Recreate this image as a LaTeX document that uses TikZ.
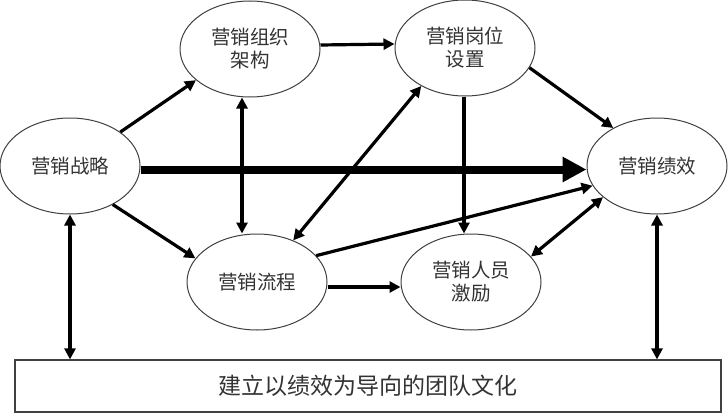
\documentclass[tikz,border=0pt]{standalone}
\usepackage{fontspec}
\newfontfamily\cjk{Noto Sans CJK SC}
\usetikzlibrary{shapes.geometric,arrows.meta,calc}
\begin{document}
\begin{tikzpicture}[x=1pt,y=-1pt,
  ell/.style={ellipse,draw=black!75,line width=1pt,minimum width=140pt,minimum height=96pt,inner sep=0pt,align=center,font=\cjk\fontsize{19.5}{23}\selectfont,text=black!80},
  arr/.style={line width=3.2pt,-{Triangle[length=11pt,width=11pt]}},
  darr/.style={line width=3.2pt,{Triangle[length=11pt,width=11pt]}-{Triangle[length=11pt,width=11pt]}},
  bigarr/.style={line width=8pt,-{Triangle[length=24pt,width=24pt]}},
  cult/.style={rectangle,draw=black!75,line width=1.2pt,minimum width=706pt,minimum height=52pt,inner sep=0pt,font=\cjk\fontsize{23}{26}\selectfont,text=black!80}
]
\useasboundingbox (0,0) rectangle (728,415);
\node[ell] (strat) at (70,166) {营销战略};
\node[ell] (org) at (250,49) {营销组织\\架构};
\node[ell] (post) at (465,48) {营销岗位\\设置};
\node[ell] (perf) at (657,166) {营销绩效};
\node[ell] (proc) at (257,282) {营销流程};
\node[ell] (inc) at (471,282) {营销人员\\激励};
\node[cult] (cul) at (368,386) {建立以绩效为导向的团队文化};

\draw[arr] (strat.34) -- (org.210);
\draw[arr] ([yshift=4pt]org.east) -- ([yshift=4pt]post.west);
\draw[darr] ([xshift=-8pt]org.south) -- ([xshift=-15pt]proc.north);
\draw[darr] (proc.49) -- (post.221);
\draw[arr] ([xshift=-1pt]post.south) -- ([xshift=-7pt]inc.north);
\draw[arr] (post.343) -- (perf.139);
\draw[bigarr] ([yshift=-3.5pt]strat.east) -- ([yshift=-3.5pt]perf.west);
\draw[arr] (strat.318) -- (proc.159);
\draw[arr] (proc.24) -- (perf.197);
\draw[arr] ([yshift=-5pt]proc.east) -- ([yshift=-5pt]inc.west);
\draw[darr] (inc.23) -- (perf.210);
\draw[darr] (strat.south) -- (strat.south |- cul.north);
\draw[darr] (perf.south) -- (perf.south |- cul.north);
\end{tikzpicture}
\end{document}
